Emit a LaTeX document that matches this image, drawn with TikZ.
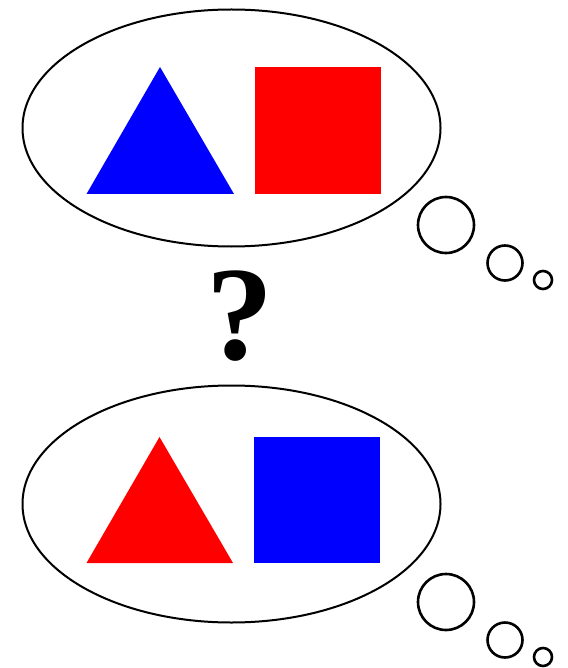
\documentclass[tikz,border=0pt]{standalone}
\usepackage{fontspec}
\newfontfamily\qfont{Liberation Serif}

\tikzset{
	bubble/.style={draw=black, line width=2pt},
	puff/.style={draw=black, line width=2.6pt},
}

\begin{document}
\begin{tikzpicture}[x=1pt, y=-1pt]
			\useasboundingbox (0, 0) rectangle (567, 668);
			\draw[bubble] (231.5, 128) ellipse [x radius=209, y radius=118.5];
			\fill[blue] (160, 67) -- (234, 194) -- (86.5, 194) -- cycle;
			\fill[red] (254.5, 67) rectangle (381, 194);
			\draw[puff] (446, 225) circle [radius=28];
			\draw[puff] (505, 263) circle [radius=17.5];
			\draw[puff] (543, 280) circle [radius=9];
			\node[anchor=base, inner sep=0pt](Q) at (240, 359){\qfont\bfseries\fontsize{134}{134}\selectfont ?};
			\draw[bubble] (231.5, 504) ellipse [x radius=209, y radius=118.5];
			\fill[red] (159.5, 437) -- (233, 563) -- (86.5, 563) -- cycle;
			\fill[blue] (254, 437) rectangle (380, 563);
			\draw[puff] (446, 602) circle [radius=28];
			\draw[puff] (505, 640) circle [radius=17.5];
			\draw[puff] (543, 657) circle [radius=9];
		\end{tikzpicture}
\end{document}
